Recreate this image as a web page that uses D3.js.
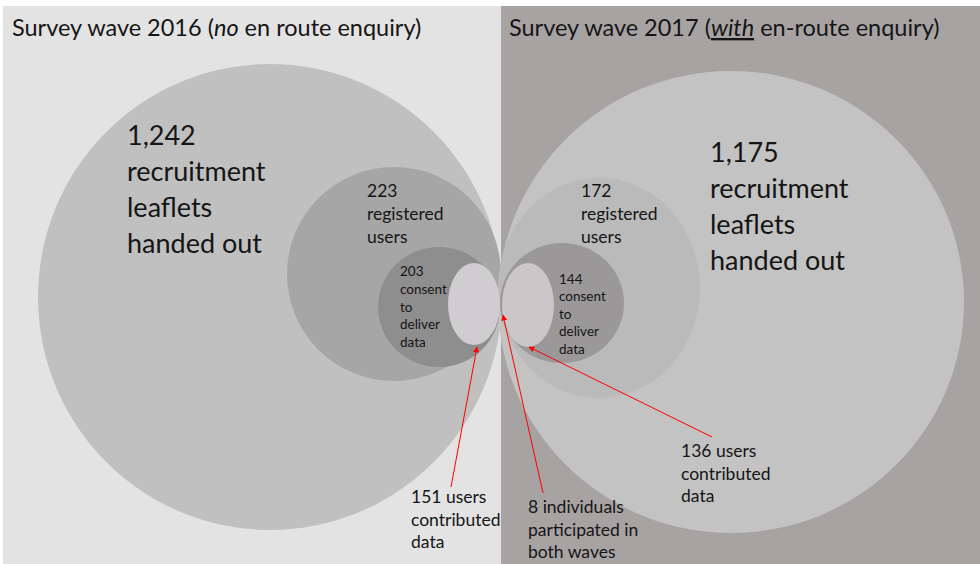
<!DOCTYPE html>
<html>
<head>
<meta charset="utf-8">
<script src="https://cdn.jsdelivr.net/npm/d3@7"></script>
<style>
  html, body { margin: 0; padding: 0; background: #fff; }
  svg { display: block; }
  text { font-family: Lato, "Open Sans", sans-serif; fill: #151515; }
</style>
</head>
<body>
<svg id="funnel" width="980" height="564"></svg>
<script>
// ---- Data
const waves = ["2016", "2017"];
const waveNotes = [["no", " en route enquiry)"], ["with", " en-route enquiry)"]];
const leaflets = [1242, 1175];
const registered = [223, 172];
const consent = [203, 144];
const contributed = [151, 136];
const bothWaves = 8;

// ---- Layout (pixels)
const W = 980, H = 564, mid = 501;
const shapes = [
  // wave 0 (left)
  { w: 0, stage: "leaflets",    cx: 270, cy: 297, rx: 232, ry: 233, fill: "#c0c0c0" },
  { w: 0, stage: "registered",  cx: 394, cy: 274, rx: 107, ry: 107, fill: "#a6a6a6" },
  { w: 0, stage: "consent",     cx: 439, cy: 307, rx: 61,  ry: 60,  fill: "#8f8e8f" },
  // wave 1 (right)
  { w: 1, stage: "leaflets",    cx: 731, cy: 302, rx: 233, ry: 231, fill: "#c3c3c3" },
  { w: 1, stage: "registered",  cx: 599, cy: 288, rx: 101, ry: 110, fill: "#bababa" },
  { w: 1, stage: "consent",     cx: 562, cy: 303, rx: 62,  ry: 60,  fill: "#9b9899" },
];
const ellipses = [
  { cx: 474, cy: 304, rx: 26, ry: 41, fill: "#cfcdcf" },
  { cx: 528, cy: 305, rx: 26, ry: 42, fill: "#cbc7c9" },
];

const fmt = d3.format(",");

const svg = d3.select("#funnel");
const defs = svg.append("defs");

// backgrounds
svg.append("rect").attr("x", 3).attr("y", 6).attr("width", mid - 3).attr("height", H - 6).attr("fill", "#e3e3e3");
svg.append("rect").attr("x", mid).attr("y", 6).attr("width", W - mid).attr("height", H - 6).attr("fill", "#a8a3a3");

const g = svg.append("g");

g.selectAll("ellipse.stage")
  .data(shapes)
  .enter()
  .append("ellipse")
  .attr("class", "stage")
  .attr("cx", d => d.cx).attr("cy", d => d.cy)
  .attr("rx", d => d.rx).attr("ry", d => d.ry)
  .attr("fill", d => d.fill);

g.selectAll("ellipse.contrib")
  .data(ellipses)
  .enter()
  .append("ellipse")
  .attr("class", "contrib")
  .attr("cx", d => d.cx).attr("cy", d => d.cy)
  .attr("rx", d => d.rx).attr("ry", d => d.ry)
  .attr("fill", d => d.fill);

// overlap of the two contributor groups
defs.append("clipPath").attr("id", "clipL")
  .append("ellipse").attr("cx", ellipses[0].cx).attr("cy", ellipses[0].cy)
  .attr("rx", ellipses[0].rx).attr("ry", ellipses[0].ry);
g.append("ellipse")
  .attr("clip-path", "url(#clipL)")
  .attr("cx", ellipses[1].cx).attr("cy", ellipses[1].cy)
  .attr("rx", ellipses[1].rx).attr("ry", ellipses[1].ry)
  .attr("fill", "#dcdcdc");

// ---- Titles
const titles = [
  { x: 12, y: 36 },
  { x: 509, y: 36 }
];
titles.forEach((t, i) => {
  const txt = svg.append("text")
    .attr("x", t.x).attr("y", t.y)
    .attr("font-size", 23.5);
  txt.append("tspan").text(`Survey wave ${waves[i]} (`);
  txt.append("tspan").attr("font-style", "italic")
    .attr("text-decoration", i === 1 ? "underline" : null)
    .text(waveNotes[i][0]);
  txt.append("tspan").text(waveNotes[i][1]);
});

// ---- Labels
function block(x, y, lines, size, lh) {
  const t = svg.append("text").attr("font-size", size);
  t.selectAll("tspan")
    .data(lines)
    .enter()
    .append("tspan")
    .attr("x", x)
    .attr("y", (d, i) => y + i * lh)
    .text(d => d);
}

block(127, 145, [fmt(leaflets[0]), "recruitment", "leaflets", "handed out"], 27, 36);
block(710, 162, [fmt(leaflets[1]), "recruitment", "leaflets", "handed out"], 27, 36);
block(367, 197, [registered[0], "registered", "users"], 17.5, 23);
block(581, 197, [registered[1], "registered", "users"], 17.5, 23);
block(400, 276, [consent[0], "consent", "to", "deliver", "data"], 13.5, 17.8);
block(559, 284, [consent[1], "consent", "to", "deliver", "data"], 13.5, 17.4);
block(411, 503, [`${contributed[0]} users`, "contributed", "data"], 17.5, 22.5);
block(681, 457, [`${contributed[1]} users`, "contributed", "data"], 17.5, 22.5);
block(528, 513, [`${bothWaves} individuals`, "participated in", "both waves"], 17.5, 22.5);

// ---- Red pointers
defs.append("marker")
  .attr("id", "head")
  .attr("viewBox", "0 0 10 10")
  .attr("refX", 9).attr("refY", 5)
  .attr("markerWidth", 6).attr("markerHeight", 6)
  .attr("markerUnits", "userSpaceOnUse")
  .attr("orient", "auto")
  .append("path")
  .attr("d", "M0,0 L10,5 L0,10 Z")
  .attr("fill", "#ff0000");

const pointers = [
  { x1: 451, y1: 487, x2: 477, y2: 347 },
  { x1: 543, y1: 493, x2: 503, y2: 315 },
  { x1: 712, y1: 437, x2: 529, y2: 347 }
];
svg.selectAll("line.ptr")
  .data(pointers)
  .enter()
  .append("line")
  .attr("class", "ptr")
  .attr("x1", d => d.x1).attr("y1", d => d.y1)
  .attr("x2", d => d.x2).attr("y2", d => d.y2)
  .attr("stroke", "#ff0000")
  .attr("stroke-width", 1)
  .attr("marker-end", "url(#head)");
</script>
</body>
</html>
